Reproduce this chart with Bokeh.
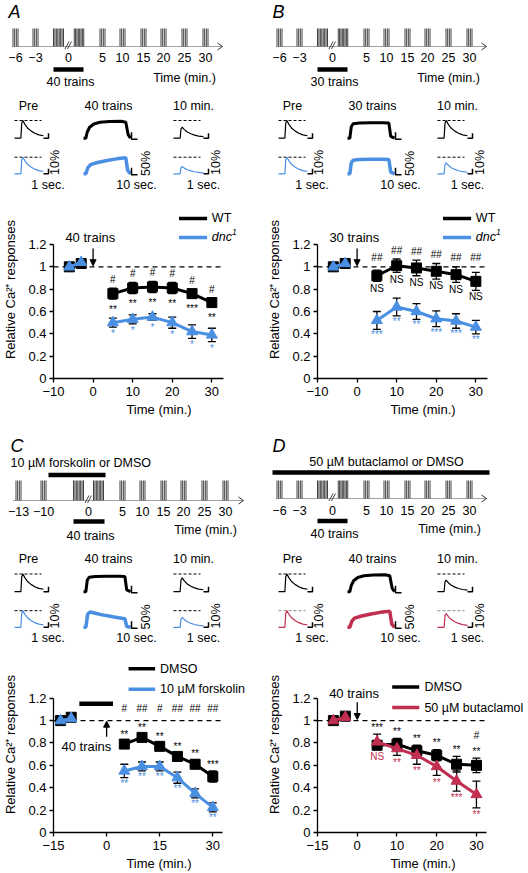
import math
from bokeh.plotting import figure
from bokeh.layouts import column, row
from bokeh.models import (Range1d, FixedTicker, Whisker, TeeHead, ColumnDataSource,
                          Arrow, NormalHead, CustomJSTickFormatter)
from bokeh.core.properties import value
from bokeh.embed import file_html
from bokeh.resources import INLINE

FONT = "Liberation Sans"
BLACK = "#000000"
BLUE = "#4a8fe2"
RED = "#c12f50"

# ---------------- data ----------------
pre_t_std = [-6, -3]
pre_t_c = [-13, -10]
post_t = [5, 10, 15, 20, 25, 30]
y_ticks = [0, 0.2, 0.4, 0.6, 0.8, 1.0, 1.2]
x_ticks_10 = [-10, 0, 10, 20, 30]
x_labels_10 = ["\u221210", "0", "10", "20", "30"]
x_ticks_c = [-15, 0, 15, 30]
x_labels_c = ["\u221215", "0", "15", "30"]
x_ticks_d = [-10, 0, 10, 20, 30]
x_labels_d = ["\u221215", "0", "10", "20", "30"]

# Panel A: 40 trains, WT vs dnc1
a_wt_pre = [1.00, 1.03]
a_wt_pre_err = [0.01, 0.02]
a_wt = [0.76, 0.81, 0.82, 0.81, 0.76, 0.68]
a_wt_err = [0.05, 0.05, 0.05, 0.05, 0.04, 0.04]
a_dnc_pre = [1.00, 1.04]
a_dnc_pre_err = [0.01, 0.02]
a_dnc = [0.50, 0.53, 0.55, 0.50, 0.42, 0.39]
a_dnc_err = [0.04, 0.04, 0.03, 0.05, 0.06, 0.06]
a_hash = ["#", "#", "#", "#", "#", "#"]
a_wt_sig = ["**", "**", "**", "**", "***", "**"]
a_dnc_sig = ["*", "*", "*", "*", "*", "*"]

# Panel B: 30 trains, WT vs dnc1
b_wt_pre = [1.00, 1.03]
b_wt_pre_err = [0.01, 0.02]
b_wt = [0.92, 1.01, 0.99, 0.96, 0.93, 0.87]
b_wt_err = [0.05, 0.06, 0.07, 0.07, 0.07, 0.08]
b_dnc_pre = [1.00, 1.03]
b_dnc_pre_err = [0.01, 0.02]
b_dnc = [0.52, 0.64, 0.60, 0.535, 0.515, 0.46]
b_dnc_err = [0.08, 0.08, 0.07, 0.07, 0.065, 0.06]
b_hash = ["##", "##", "##", "##", "##", "##"]
b_wt_sig = ["NS", "NS", "NS", "NS", "NS", "NS"]
b_dnc_sig = ["***", "**", "**", "***", "***", "**"]

# Panel C: DMSO vs 10 uM forskolin
c_dmso_pre = [1.00, 1.03]
c_dmso_pre_err = [0.01, 0.02]
c_dmso = [0.79, 0.85, 0.77, 0.68, 0.61, 0.50]
c_dmso_err = [0.03, 0.03, 0.03, 0.03, 0.04, 0.05]
c_fsk_pre = [1.00, 1.02]
c_fsk_pre_err = [0.01, 0.02]
c_fsk = [0.55, 0.59, 0.59, 0.49, 0.35, 0.225]
c_fsk_err = [0.06, 0.04, 0.04, 0.05, 0.04, 0.04]
c_hash = ["#", "##", "#", "##", "##", "##"]
c_dmso_sig = ["**", "**", "**", "**", "**", "***"]
c_fsk_sig = ["**", "**", "**", "**", "**", "**"]
c_drug_window = [-7.7, 1.8]

# Panel D: DMSO vs 50 uM butaclamol
d_dmso_pre = [1.00, 1.04]
d_dmso_pre_err = [0.01, 0.02]
d_dmso = [0.78, 0.79, 0.73, 0.69, 0.61, 0.60]
d_dmso_err = [0.04, 0.05, 0.05, 0.05, 0.07, 0.065]
d_but_pre = [1.00, 1.03]
d_but_pre_err = [0.01, 0.02]
d_but = [0.81, 0.75, 0.69, 0.59, 0.46, 0.34]
d_but_err = [0.07, 0.06, 0.08, 0.08, 0.09, 0.12]
d_hash = ["", "", "", "", "", "#"]
d_dmso_sig = ["***", "**", "**", "**", "**", "**"]
d_but_sig = ["NS", "**", "**", "**", "***", "**"]

# schematic trace shapes (normalised time, normalised amplitude)
transient_t = [0, 0.22, 0.25, 0.29, 0.36, 0.46, 0.58, 0.70, 0.84, 1.0]
transient_a = [0, 0, 0.85, 1.0, 0.78, 0.56, 0.40, 0.28, 0.19, 0.14]
train_slow_t = [0, 0.05, 0.08, 0.13, 0.22, 0.35, 0.55, 0.80, 0.90, 0.95, 1.0]
train_slow_a = [0, 0, 0.35, 0.62, 0.80, 0.90, 0.95, 0.96, 0.90, 0.2, 0]
train_ramp_t = [0, 0.05, 0.09, 0.15, 0.30, 0.50, 0.70, 0.90, 0.94, 1.0]
train_ramp_a = [0, 0, 0.35, 0.55, 0.68, 0.80, 0.90, 0.96, 0.2, 0]
train_flat_t = [0, 0.05, 0.08, 0.12, 0.25, 0.50, 0.75, 0.88, 0.92, 1.0]
train_flat_a = [0, 0, 0.65, 0.82, 0.86, 0.87, 0.87, 0.86, 0.1, 0]
train_decay_t = [0, 0.05, 0.09, 0.14, 0.25, 0.45, 0.65, 0.88, 0.92, 1.0]
train_decay_a = [0, 0, 0.80, 0.92, 0.85, 0.72, 0.62, 0.52, 0.05, 0]

SCH_FS = "12.5px"
CH_FS = "12.5px"
W = 264


# ---------------- helpers ----------------
def txt(p, x, y, s, size=SCH_FS, align="center", style="normal", angle=0.0,
        color=BLACK, baseline="middle"):
    p.text(x=[x], y=[y], text=[s], text_font=value(FONT), text_font_size=size,
           text_align=align, text_baseline=baseline, text_font_style=style,
           angle=angle, text_color=color)


def schematic(cfg):
    H = cfg["h_ref"]
    p = figure(width=W, height=H, x_range=Range1d(0, 264),
               y_range=Range1d(H, 0), output_backend="svg", toolbar_location=None,
               min_border=0, x_axis_location=None, y_axis_location=None,
               frame_align=False)
    p.outline_line_color = None
    p.grid.visible = False
    lx, ly = cfg["letter_pos"]
    txt(p, lx, ly, cfg["letter"], size="18px", align="left", style="italic")
    if cfg.get("drug"):
        dx, dy_, al = cfg["drug_pos"]
        txt(p, dx, dy_, cfg["drug"], align=al)
        bx0, bx1, by = cfg["drug_bar"]
        p.segment([bx0], [by], [bx1], [by], color=BLACK, line_width=4.5)
    tl = cfg["timeline"]
    top, base = tl["top"], tl["base"]
    x0s, y0s, x1s, y1s = [], [], [], []
    for xc, n, w in tl["groups"]:
        for k in range(n):
            xx = xc - w / 2 + w * k / (n - 1)
            x0s.append(xx); y0s.append(top); x1s.append(xx); y1s.append(base)
    p.segment(x0s, y0s, x1s, y1s, color=BLACK, line_width=0.75)
    p.segment([tl["start"]], [base], [tl["end"]], [base], color="#444444",
              line_width=1, line_dash="1 1")
    e = tl["end"]
    p.line([e - 5, e, e - 5], [base - 3.5, base, base + 3.5], color="#333333", line_width=1)
    bx = tl["brk"]
    p.segment([bx - 3.5, bx - 1], [base + 2.5, base + 2.5], [bx + 0.5, bx + 3],
              [base - 5, base - 5], color="#333333", line_width=0.9)
    for s, xx in zip(tl["labels"], tl["label_x"]):
        txt(p, xx, tl["label_y"], s)
    tb0, tb1, tby = cfg["train_bar"]
    p.segment([tb0], [tby], [tb1], [tby], color=BLACK, line_width=4.5)
    txt(p, cfg["train_label_pos"][0], cfg["train_label_pos"][1], cfg["train_label"])
    txt(p, cfg["time_pos"][0], cfg["time_pos"][1], "Time (min.)")

    d = cfg["dy"]
    txt(p, 28, 105 + d, "Pre")
    txt(p, 108, 105 + d, cfg["train_label"])
    txt(p, 193, 105 + d, "10 min.")
    rows = [(120 + d, 137.7 + d, BLACK, BLACK, cfg["late_amp"][0], cfg["train_shape"][0], 3.0),
            (156.7 + d, 173.3 + d, cfg["color2"], cfg["dash2"], cfg["late_amp"][1],
             cfg["train_shape"][1], 3.5)]
    for dash_y, b, col, dcol, late, (sh_t, sh_a), tlw in rows:
        amp = b - dash_y
        p.segment([14, 173], [dash_y, dash_y], [41, 200], [dash_y, dash_y], color=dcol,
                  line_width=1, line_dash="3 2")
        p.line([14 + t * 29 for t in transient_t], [b - a * amp for a in transient_a],
               color=col, line_width=1.2)
        p.line([173 + t * 30 for t in transient_t], [b - a * amp * late for a in transient_a],
               color=col, line_width=1.2)
        p.line([83 + t * 47 for t in sh_t], [b - a * amp for a in sh_a],
               color=col, line_width=tlw)
        p.line([43, 48, 48], [b, b, b - 5], color=BLACK, line_width=1.5)
        p.line([203, 208, 208], [b, b, b - 5], color=BLACK, line_width=1.5)
        p.line([131, 131, 137], [b - 6, b + 1, b + 1], color=BLACK, line_width=1.5)
    txt(p, 54, 162 + d, "10%", angle=math.pi / 2)
    txt(p, 145, 163 + d, "50%", angle=math.pi / 2)
    txt(p, 215, 162 + d, "10%", angle=math.pi / 2)
    txt(p, 47.5, 184 + d, "1 sec.")
    txt(p, 136, 184 + d, "10 sec.")
    txt(p, 203, 184 + d, "1 sec.")
    return p


def chart(cfg):
    p = figure(width=W, height=cfg["h"], x_range=Range1d(cfg["x0"], cfg["x1"]),
               y_range=Range1d(0, cfg["y1"]), output_backend="svg", toolbar_location=None,
               min_border_left=53, min_border_right=0, min_border_top=0,
               min_border_bottom=cfg["bb"], frame_align=False)
    p.outline_line_color = None
    p.grid.visible = False
    xa, ya = p.xaxis[0], p.yaxis[0]
    xa.bounds = (cfg["x0"], cfg["axis_end"])
    xa.ticker = FixedTicker(ticks=cfg["xticks"])
    xa.formatter = CustomJSTickFormatter(
        args=dict(tvals=cfg["xticks"], tlabels=cfg["xlabels"]),
        code="const i = tvals.indexOf(tick); return i < 0 ? '' : tlabels[i];")
    ya.bounds = (0, 1.2)
    ya.ticker = FixedTicker(ticks=y_ticks)
    ya.formatter = CustomJSTickFormatter(code="return String(Math.round(tick * 10) / 10);")
    for ax in (xa, ya):
        ax.major_tick_out = 4
        ax.major_tick_in = 0
        ax.minor_tick_out = 0
        ax.minor_tick_in = 0
        ax.axis_line_width = 1.3
        ax.major_tick_line_width = 1.3
        ax.major_label_text_font = FONT
        ax.major_label_text_font_size = "13px"
        ax.major_label_text_color = BLACK
        ax.axis_label_text_font = FONT
        ax.axis_label_text_font_size = "13px"
        ax.axis_label_text_font_style = "normal"
        ax.axis_label_text_color = BLACK
    xa.axis_label = "Time (min.)"
    ya.axis_label = "Relative Ca\u00b2\u207a responses"
    xa.major_label_standoff = 4
    xa.axis_label_standoff = 3
    ya.major_label_standoff = 3
    ya.axis_label_standoff = 7

    p.segment([cfg["x0"]], [1], [cfg["axis_end"]], [1], color=BLACK, line_width=1.4,
              line_dash="5 4")

    def series(pre_t, pre_y, pre_e, y, e, color, marker, size):
        for tt, yy, ee in ((pre_t, pre_y, pre_e), (post_t, y, e)):
            src = ColumnDataSource(dict(x=tt, y=yy,
                                        lo=[a - b for a, b in zip(yy, ee)],
                                        hi=[a + b for a, b in zip(yy, ee)]))
            p.add_layout(Whisker(source=src, base="x", upper="hi", lower="lo",
                                 line_color=BLACK, line_width=1.3, level="underlay",
                                 upper_head=TeeHead(size=8, line_color=BLACK, line_width=1.3),
                                 lower_head=TeeHead(size=8, line_color=BLACK, line_width=1.3)))
            p.line("x", "y", source=src, color=color, line_width=3)
            p.scatter("x", "y", source=src, marker=marker, size=size, color=color)

    s1, s2 = cfg["s1"], cfg["s2"]
    series(cfg["pre_t"], s1["pre"], s1["pre_err"], s1["y"], s1["err"], BLACK, "square", 10)
    series(cfg["pre_t"], s2["pre"], s2["pre_err"], s2["y"], s2["err"], s2["color"], "triangle", 11)

    top1 = [a + b for a, b in zip(s1["y"], s1["err"])]
    top2 = [a + b for a, b in zip(s2["y"], s2["err"])]
    bot1 = [a - b for a, b in zip(s1["y"], s1["err"])]
    bot2 = [a - b for a, b in zip(s2["y"], s2["err"])]
    topmax = [max(a, b) for a, b in zip(top1, top2)]
    for labels, ys, col in cfg["annots"](top1, topmax, bot1, bot2):
        p.text(x=post_t, y=ys, text=labels, text_font=value(FONT), text_font_size="10px",
               text_align="center", text_baseline="middle", text_color=col)

    ax0, ay0, ay1 = cfg["arrow"]
    p.add_layout(Arrow(end=NormalHead(size=6, fill_color=BLACK, line_color=BLACK, line_width=1),
                       x_start=ax0, y_start=ay0, x_end=ax0, y_end=ay1,
                       line_width=1.3, line_color=BLACK))
    txt(p, cfg["arrow_label_pos"][0], cfg["arrow_label_pos"][1], cfg["arrow_label"], size="13px")
    if cfg.get("drug_window"):
        w0, w1, wy = cfg["drug_window"]
        p.segment([w0], [wy], [w1], [wy], color=BLACK, line_width=4.5)

    lx0, lx1, ltx, ly1, ly2 = cfg["legend"]
    p.segment([lx0, lx0], [ly1, ly2], [lx1, lx1], [ly1, ly2],
              color=[BLACK, s2["color"]], line_width=3.5)
    txt(p, ltx, ly1, s1["name"], size=CH_FS, align="left")
    if s2.get("italic"):
        txt(p, ltx, ly2, s2["name"], size=CH_FS, align="left", style="italic")
        txt(p, ltx + s2["sup_dx"], ly2 + 0.05, "1", size="8.5px", align="left", style="italic")
    else:
        txt(p, ltx, ly2, s2["name"], size=CH_FS, align="left")
    return p


# ---------------- schematic configs ----------------
tl_std_groups = [(15, 4, 5), (35, 4, 5), (58, 8, 10), (78.5, 8, 9.5), (102, 4, 5),
                 (122, 4, 5), (143, 4, 5), (163, 4, 5), (184, 4, 5), (205, 4, 5)]
tl_std_labels = ["\u22126", "\u22123", "0", "5", "10", "15", "20", "25", "30"]
tl_std_x = [15, 35, 68, 102, 122, 143, 163, 184, 205]
tl_c_groups = [(18, 4, 5), (43, 4, 5), (78, 8, 10), (98, 8, 10), (122, 4, 5),
               (142, 4, 5), (163, 4, 5), (183, 4, 5), (204, 4, 5), (225, 4, 5)]
tl_c_labels = ["\u221213", "\u221210", "0", "5", "10", "15", "20", "25", "30"]
tl_c_x = [18, 43, 88, 122, 142, 163, 183, 204, 225]


def sch_ab(letter, train):
    return dict(h_ref=200, letter=letter, letter_pos=(8, 11),
                timeline=dict(top=28, base=46, start=12, end=222, brk=68, groups=tl_std_groups,
                              labels=tl_std_labels, label_x=tl_std_x, label_y=57),
                train_bar=(53, 83, 69), train_label=train, train_label_pos=(70, 81),
                time_pos=(184, 77), dy=0, color2=BLUE, dash2=BLACK)


schA = sch_ab("A", "40 trains")
schA.update(late_amp=(0.62, 0.44), train_shape=((train_slow_t, train_slow_a), (train_ramp_t, train_ramp_a)))
schB = sch_ab("B", "30 trains")
schB.update(late_amp=(1.0, 0.66), train_shape=((train_flat_t, train_flat_a), (train_flat_t, train_flat_a)))
schC = dict(h_ref=226, letter="C", letter_pos=(10, 15),
            drug="10 \u00b5M forskolin or DMSO", drug_pos=(10, 32, "left"), drug_bar=(48, 105, 44.5),
            timeline=dict(top=50, base=70, start=13, end=243, brk=88, groups=tl_c_groups,
                          labels=tl_c_labels, label_x=tl_c_x, label_y=81),
            train_bar=(73, 104, 91), train_label="40 trains", train_label_pos=(90, 105),
            time_pos=(205, 99), dy=23.5, color2=BLUE, dash2=BLACK, late_amp=(0.78, 0.6),
            train_shape=((train_flat_t, train_flat_a), (train_decay_t, train_decay_a)))
schD = dict(h_ref=226, letter="D", letter_pos=(8, 15),
            drug="50 \u00b5M butaclamol or DMSO", drug_pos=(122, 31, "center"), drug_bar=(8, 225, 42),
            timeline=dict(top=50, base=68, start=12, end=222, brk=68, groups=tl_std_groups,
                          labels=tl_std_labels, label_x=tl_std_x, label_y=80),
            train_bar=(53, 83, 90.5), train_label="40 trains", train_label_pos=(70, 103),
            time_pos=(185, 98), dy=23.5, color2=RED, dash2="#888888", late_amp=(0.65, 0.83),
            train_shape=((train_slow_t, train_slow_a), (train_ramp_t, train_ramp_a)))


# ---------------- chart configs ----------------
def ann_a(top1, topmax, bot1, bot2):
    return [(a_hash, [t + 0.08 for t in top1], BLACK),
            (a_wt_sig, [b - 0.09 for b in bot1], BLACK),
            (a_dnc_sig, [b - 0.06 for b in bot2], BLUE)]


def ann_b(top1, topmax, bot1, bot2):
    return [(b_hash, [max(t + 0.08, 1.08) for t in top1], BLACK),
            (b_wt_sig, [b - 0.06 for b in bot1], BLACK),
            (b_dnc_sig, [b - 0.05 for b in bot2], BLUE)]


def ann_c(top1, topmax, bot1, bot2):
    return [(c_dmso_sig, [t + 0.06 for t in topmax], BLACK),
            (c_hash, [max(t + 0.19, 1.11) for t in topmax], BLACK),
            (c_fsk_sig, [b - 0.05 for b in bot2], BLUE)]


def ann_d(top1, topmax, bot1, bot2):
    return [(d_dmso_sig, [t + 0.06 for t in topmax], BLACK),
            (d_hash, [t + 0.2 for t in top1], BLACK),
            (d_but_sig, [b - 0.06 for b in bot2], RED)]


def ab_chart(s1, s2, annots, label):
    return dict(h=230, bb=52, x0=-10, x1=43.3, y1=1.594, axis_end=32.9,
                xticks=x_ticks_10, xlabels=x_labels_10, pre_t=pre_t_std, s1=s1, s2=s2,
                annots=annots, arrow=(0, 1.165, 1.01), arrow_label=label,
                arrow_label_pos=(-0.7, 1.262), legend=(21.7, 28.8, 30.0, 1.433, 1.263))


chA = ab_chart(dict(name="WT", pre=a_wt_pre, pre_err=a_wt_pre_err, y=a_wt, err=a_wt_err),
               dict(name="dnc", italic=True, sup_dx=5.1, color=BLUE, pre=a_dnc_pre,
                    pre_err=a_dnc_pre_err, y=a_dnc, err=a_dnc_err), ann_a, "40 trains")
chB = ab_chart(dict(name="WT", pre=b_wt_pre, pre_err=b_wt_pre_err, y=b_wt, err=b_wt_err),
               dict(name="dnc", italic=True, sup_dx=5.1, color=BLUE, pre=b_dnc_pre,
                    pre_err=b_dnc_pre_err, y=b_dnc, err=b_dnc_err), ann_b, "30 trains")
chC = dict(h=217, bb=40, x0=-15, x1=44.6, y1=1.573, axis_end=32.8,
           xticks=x_ticks_c, xlabels=x_labels_c, pre_t=pre_t_c,
           s1=dict(name="DMSO", pre=c_dmso_pre, pre_err=c_dmso_pre_err, y=c_dmso, err=c_dmso_err),
           s2=dict(name="10 \u00b5M forskolin", color=BLUE, pre=c_fsk_pre, pre_err=c_fsk_pre_err,
                   y=c_fsk, err=c_fsk_err),
           annots=ann_c, arrow=(0, 0.855, 0.995), arrow_label="40 trains",
           arrow_label_pos=(-5.7, 0.77), legend=(6.2, 13.7, 15.1, 1.464, 1.28),
           drug_window=(c_drug_window[0], c_drug_window[1], 1.15))
chD = dict(h=217, bb=40, x0=-10, x1=43.1, y1=1.573, axis_end=32.6,
           xticks=x_ticks_d, xlabels=x_labels_d, pre_t=pre_t_std,
           s1=dict(name="DMSO", pre=d_dmso_pre, pre_err=d_dmso_pre_err, y=d_dmso, err=d_dmso_err),
           s2=dict(name="50 \u00b5M butaclamol", color=RED, pre=d_but_pre, pre_err=d_but_pre_err,
                   y=d_but, err=d_but_err),
           annots=ann_d, arrow=(0, 1.165, 1.01), arrow_label="40 trains",
           arrow_label_pos=(-0.8, 1.242), legend=(8.8, 15.6, 16.9, 1.30, 1.117))

layout = column(
    row(column(schematic(schA), chart(chA)), column(schematic(schB), chart(chB))),
    row(column(schematic(schC), chart(chC)), column(schematic(schD), chart(chD))),
)

open("out.html", "w").write(file_html(layout, INLINE))
